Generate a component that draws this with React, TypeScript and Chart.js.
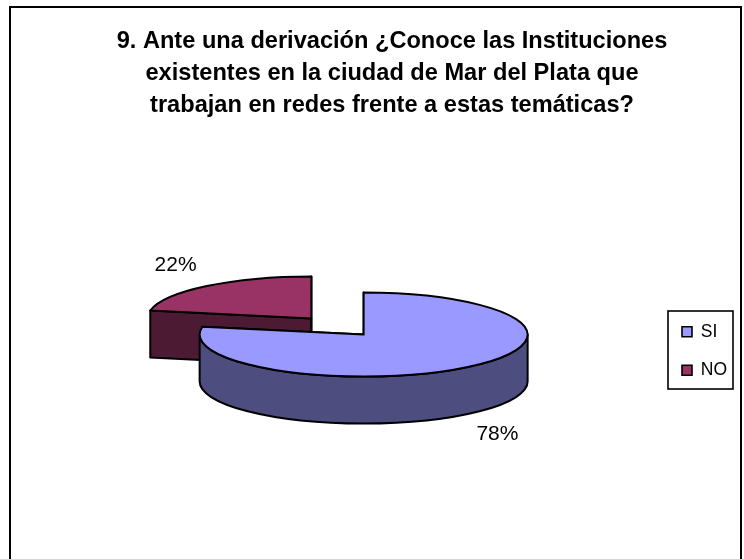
import React, { useEffect, useRef } from "react";
import { Chart, registerables } from "chart.js";

Chart.register(...registerables);

const categories = ["SI", "NO"];
const values = [78, 22];
const titleLines = [
  "9. Ante una derivación ¿Conoce las Instituciones",
  "existentes en la ciudad de Mar del Plata que",
  "trabajan en redes frente a estas temáticas?",
];
const topColors = ["#9999FF", "#993366"];
const wallColors = ["#4D4D80", "#4D1A33"];

const FONT = "'Liberation Sans', Arial, sans-serif";
const PIE_X = 337.5;
const PIE_Y = 326.5;
const TILT = 0.256;
const DEPTH = 47;
const EXPLODE = 41;
const RADIUS = 164;
const LABEL_NUDGE = [
  { x: 0, y: 11 },
  { x: -2, y: -12 },
];

function geometry(arc: any) {
  return {
    x: arc.x,
    y: arc.y * TILT,
    r: arc.outerRadius,
    ry: arc.outerRadius * TILT,
    a: arc.startAngle,
    b: arc.endAngle,
    mid: (arc.startAngle + arc.endAngle) / 2,
  };
}

const piePlugin = {
  id: "pie3d",
  afterDatasetUpdate(chart: any, args: any) {
    // explode each slice from the pie centre along its middle angle
    chart.getDatasetMeta(args.index).data.forEach((arc: any) => {
      const mid = (arc.startAngle + arc.endAngle) / 2;
      arc.x = PIE_X + Math.cos(mid) * EXPLODE;
      arc.y = PIE_Y / TILT + Math.sin(mid) * EXPLODE;
    });
  },
  afterLayout(chart: any) {
    const t = chart.titleBlock;
    t.left = 40;
    t.right = 744;
    t.top = 25;
    const l = chart.legend;
    const w = l.right - l.left;
    const h = l.bottom - l.top;
    l.left = 661;
    l.right = 661 + w;
    l.top = 302;
    l.bottom = 302 + h;
  },
  beforeDraw(chart: any) {
    const { ctx } = chart;
    ctx.save();
    ctx.fillStyle = "#fff";
    ctx.fillRect(0, 0, 744, 559);
    ctx.strokeStyle = "#000";
    ctx.lineWidth = 2;
    ctx.strokeRect(10, 7, 731, 640);
    ctx.lineWidth = 1.6;
    ctx.strokeRect(668, 311, 65, 78);
    ctx.restore();
  },
  beforeDatasetsDraw(chart: any) {
    const { ctx } = chart;
    const arcs = chart.getDatasetMeta(0).data;
    ctx.save();
    ctx.strokeStyle = "#000";
    ctx.lineWidth = 2;
    ctx.lineJoin = "round";
    for (let i = arcs.length - 1; i >= 0; i--) {
      const g = geometry(arcs[i]);
      ctx.fillStyle = wallColors[i];
      for (const a of [g.a, g.b]) {
        const px = g.x + g.r * Math.cos(a);
        const py = g.y + g.ry * Math.sin(a);
        ctx.beginPath();
        ctx.moveTo(g.x, g.y);
        ctx.lineTo(px, py);
        ctx.lineTo(px, py + DEPTH);
        ctx.lineTo(g.x, g.y + DEPTH);
        ctx.closePath();
        ctx.fill();
        ctx.stroke();
      }
      const from = Math.max(g.a, 0);
      const to = Math.min(g.b, Math.PI);
      if (to > from) {
        ctx.beginPath();
        ctx.ellipse(g.x, g.y, g.r, g.ry, 0, from, to);
        ctx.ellipse(g.x, g.y + DEPTH, g.r, g.ry, 0, to, from, true);
        ctx.closePath();
        ctx.fill();
        ctx.stroke();
      }
    }
    ctx.restore();
  },
  beforeDatasetDraw(chart: any) {
    const { ctx } = chart;
    ctx.save();
    ctx.scale(1, TILT);
  },
  afterDatasetDraw(chart: any) {
    chart.ctx.restore();
  },
  afterDatasetsDraw(chart: any) {
    const { ctx } = chart;
    const arcs = chart.getDatasetMeta(0).data;
    const total = values.reduce((s, v) => s + v, 0);
    ctx.save();
    ctx.strokeStyle = "#000";
    ctx.lineWidth = 2;
    ctx.lineJoin = "round";
    arcs.forEach((arc: any) => {
      const g = geometry(arc);
      ctx.beginPath();
      ctx.moveTo(g.x, g.y);
      ctx.ellipse(g.x, g.y, g.r, g.ry, 0, g.a, g.b);
      ctx.closePath();
      ctx.stroke();
    });
    ctx.fillStyle = "#000";
    ctx.font = `21px ${FONT}`;
    ctx.textAlign = "center";
    ctx.textBaseline = "middle";
    arcs.forEach((arc: any, i: number) => {
      const g = geometry(arc);
      const below = Math.sin(g.mid) > 0 ? DEPTH : 0;
      const x = g.x + g.r * 1.28 * Math.cos(g.mid) + LABEL_NUDGE[i].x;
      const y = g.y + g.ry * 1.28 * Math.sin(g.mid) + below + LABEL_NUDGE[i].y;
      ctx.fillText(`${Math.round((values[i] / total) * 100)}%`, x, y);
    });
    ctx.restore();
  },
};

export default function App() {
  const ref = useRef<HTMLCanvasElement>(null);
  useEffect(() => {
    const chart = new Chart(ref.current as HTMLCanvasElement, {
      type: "pie",
      data: {
        labels: categories,
        datasets: [
          {
            data: values,
            backgroundColor: topColors,
            borderWidth: 0,
            clip: false,
          } as any,
        ],
      },
      options: {
        responsive: false,
        animation: false,
        radius: RADIUS,
        layout: { padding: 0 },
        plugins: {
          title: {
            display: true,
            text: titleLines,
            color: "#000",
            align: "center",
            font: { family: FONT, size: 23.6, weight: "bold", lineHeight: 1.356 },
            padding: 0,
          },
          legend: {
            display: true,
            position: "right",
            align: "start",
            labels: {
              color: "#000",
              font: { family: FONT, size: 17.5 },
              boxWidth: 10,
              boxHeight: 10,
              padding: 21,
              generateLabels: (chart: any) =>
                categories.map((text, i) => ({
                  text,
                  fillStyle: topColors[i],
                  strokeStyle: "#000",
                  lineWidth: 1.6,
                  fontColor: "#000",
                  hidden: false,
                  index: i,
                })),
            },
          },
          tooltip: { enabled: false },
        },
      } as any,
      plugins: [piePlugin],
    });
    return () => chart.destroy();
  }, []);
  return (
    <div style={{ position: "absolute", left: 0, top: 0, width: 744, height: 559 }}>
      <canvas ref={ref} width={744} height={559} style={{ display: "block" }} />
    </div>
  );
}
